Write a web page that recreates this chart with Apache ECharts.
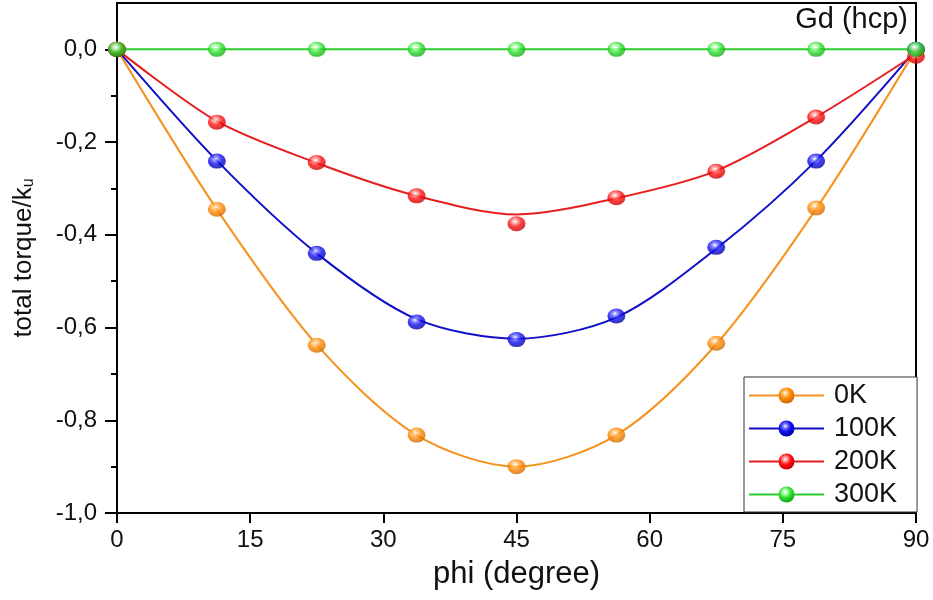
<!DOCTYPE html>
<html>
<head>
<meta charset="utf-8">
<script src="https://cdn.jsdelivr.net/npm/echarts@6.0.0/dist/echarts.min.js"></script>
<style>
  html, body { margin: 0; padding: 0; background: #fff; }
  #chart { width: 933px; height: 600px; }
</style>
</head>
<body>
<div id="chart"></div>
<script>
// measured angles (degree)
const phi = [0, 11.25, 22.5, 33.75, 45, 56.25, 67.5, 78.75, 90]

// data points, total torque / ku
const p0K   = [0, -0.345, -0.638, -0.832, -0.900, -0.832, -0.634, -0.342, 0]
const p100K = [0, -0.241, -0.440, -0.588, -0.626, -0.575, -0.427, -0.241, 0]
const p200K = [0, -0.157, -0.244, -0.316, -0.376, -0.320, -0.263, -0.146, -0.015]
const p300K = [0, 0, 0, 0, 0, 0, 0, 0, 0]

// fitted curves at the same angles
const fit0K   = [0, -0.345, -0.637, -0.832, -0.900, -0.832, -0.636, -0.344, 0]
const fit100K = [0, -0.240, -0.440, -0.582, -0.624, -0.578, -0.430, -0.240, 0]
const fit200K = [0, -0.155, -0.245, -0.316, -0.356, -0.321, -0.262, -0.146, -0.010]
const fit300K = [0, 0, 0, 0, 0, 0, 0, 0, 0]

const names = ['0K', '100K', '200K', '300K']
const xTicks = [0, 15, 30, 45, 60, 75, 90]
const yTicks = [-1, -0.8, -0.6, -0.4, -0.2, 0]
const yMinor = [-0.9, -0.7, -0.5, -0.3, -0.1]

const FONT = 'Liberation Sans'

const styles = [
  { line: '#F5921E', light: '#FFC070', base: '#FF8800', dark: '#C86400' },
  { line: '#1010C8', light: '#7070FF', base: '#1010F0', dark: '#000098' },
  { line: '#E61E1E', light: '#FF9090', base: '#FF1010', dark: '#C00000' },
  { line: '#2FCC2F', light: '#B0FFB0', base: '#30E030', dark: '#10A010' },
]

const points = [p0K, p100K, p200K, p300K]
const fits = [fit0K, fit100K, fit200K, fit300K]

const ball = (s) => ({
  type: 'radial', x: 0.42, y: 0.35, r: 0.7,
  colorStops: [
    { offset: 0, color: '#ffffff' },
    { offset: 0.22, color: s.light },
    { offset: 0.5, color: s.base },
    { offset: 1, color: s.dark },
  ],
})

const pairs = (ys) => ys.map((y, i) => [phi[i], y])

const fmt = (v) => v.toFixed(1).replace('.', ',')

const series = []
names.forEach((name, i) => {
  const s = styles[i]
  series.push({
    name,
    type: 'line',
    data: pairs(fits[i]),
    smooth: 0.3,
    showSymbol: false,
    symbol: 'circle',
    lineStyle: { color: s.line, width: 2 },
    itemStyle: { color: ball(s) },
    z: 2 + i,
  })
})
names.forEach((name, i) => {
  const s = styles[i]
  series.push({
    name,
    type: 'scatter',
    data: pairs(points[i]),
    symbol: 'circle',
    symbolSize: [18, 15],
    itemStyle: { color: ball(s) },
    z: 10 + i,
  })
})

const chart = echarts.init(document.getElementById('chart'), null, { renderer: 'canvas' })

chart.setOption({
  animation: false,
  backgroundColor: '#fff',
  textStyle: { fontFamily: FONT },
  title: {
    text: 'Gd (hcp)',
    right: 25,
    top: 5,
    padding: 0,
    textStyle: { fontFamily: FONT, fontSize: 29, fontWeight: 'normal', color: '#111' },
  },
  grid: {
    left: 117, right: 17, top: 3, bottom: 87,
    outerBoundsMode: 'none',
    show: true, borderColor: '#000', borderWidth: 2,
  },
  legend: {
    data: names,
    orient: 'vertical',
    left: 744,
    top: 377,
    padding: [5, 20, 4, 4],
    itemWidth: 75,
    itemHeight: 20,
    itemGap: 6,
    borderColor: '#333',
    borderWidth: 1,
    backgroundColor: '#fff',
    textStyle: { fontFamily: FONT, fontSize: 27, color: '#111', padding: [0, 0, 0, 5] },
  },
  xAxis: {
    type: 'value',
    min: 0,
    max: 90,
    interval: 15,
    name: 'phi (degree)',
    nameLocation: 'middle',
    nameGap: 46,
    nameTextStyle: { fontFamily: FONT, fontSize: 31, color: '#111' },
    axisLine: { show: true, onZero: false, lineStyle: { color: '#000', width: 2 } },
    axisTick: { show: true, length: 10, lineStyle: { color: '#000', width: 2 }, customValues: xTicks },
    axisLabel: { fontFamily: FONT, fontSize: 24, color: '#111', margin: 15, customValues: xTicks },
    splitLine: { show: false },
  },
  yAxis: [
    {
      type: 'value',
      min: -1,
      max: 0.1,
      name: 'total torque/k{u|u}',
      nameLocation: 'middle',
      nameGap: 80,
      nameTextStyle: {
        fontFamily: FONT, fontSize: 26, color: '#111',
        rich: { u: { fontFamily: FONT, fontSize: 16, color: '#111', padding: [10, 0, 0, 0] } },
      },
      axisLine: { show: true, onZero: false, lineStyle: { color: '#000', width: 2 } },
      axisTick: { show: true, length: 12, lineStyle: { color: '#000', width: 2 }, customValues: yTicks },
      axisLabel: { fontFamily: FONT, fontSize: 24, color: '#111', margin: 20, customValues: yTicks, formatter: fmt },
      splitLine: { show: false },
    },
    {
      type: 'value',
      min: -1,
      max: 0.1,
      position: 'left',
      axisLine: { show: false },
      axisTick: { show: true, length: 6, lineStyle: { color: '#000', width: 2 }, customValues: yMinor },
      axisLabel: { show: false },
      splitLine: { show: false },
    },
  ],
  series,
})
</script>
</body>
</html>
